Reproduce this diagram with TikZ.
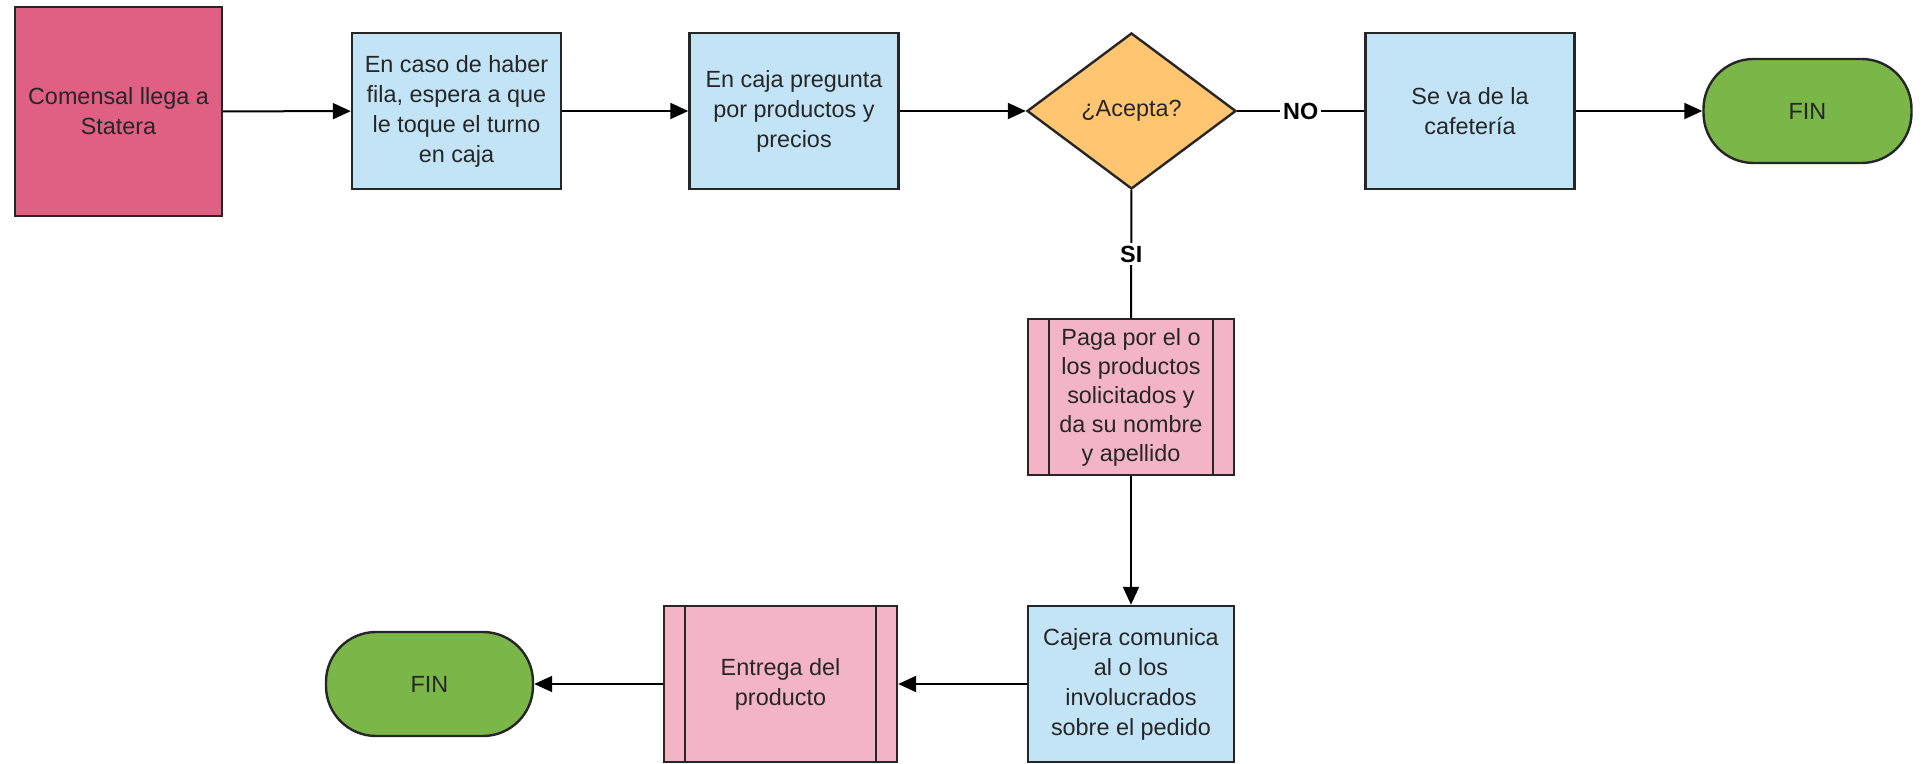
\documentclass[tikz,border=0pt]{standalone}
\usepackage{fontspec}
\setmainfont{Liberation Sans}
\usetikzlibrary{shapes.geometric,arrows.meta}
\definecolor{redc}{RGB}{224,96,131}
\definecolor{bluec}{RGB}{195,228,246}
\definecolor{orangec}{RGB}{255,197,112}
\definecolor{greenc}{RGB}{122,182,72}
\definecolor{pinkc}{RGB}{244,180,199}
\begin{document}
\begin{tikzpicture}[x=0.5pt,y=-0.5pt,
  txt/.style={font=\fontsize{11.7}{15}\selectfont, text=black!85},
  box/.style={txt, draw=black!85, line width=1.2pt, minimum width=104.5pt, minimum height=78pt, align=center, inner sep=0pt},
  bluebox/.style={box, fill=bluec},
  proc/.style={box, fill=pinkc, path picture={
      \draw[line width=1.2pt, black!85] ([xshift=10.5pt]path picture bounding box.north west) -- ([xshift=10.5pt]path picture bounding box.south west);
      \draw[line width=1.2pt, black!85] ([xshift=-10.5pt]path picture bounding box.north east) -- ([xshift=-10.5pt]path picture bounding box.south east);}},
  term/.style={txt, draw=black!85, line width=1.2pt, fill=greenc, minimum width=104pt, minimum height=52pt, rounded corners=25pt, inner sep=0pt},
  conn/.style={line width=1pt, black},
  arr/.style={conn, -{Triangle[length=9pt,width=8pt]}},
  lbl/.style={fill=white, inner sep=1.5pt, font=\fontsize{11.7}{14}\selectfont\bfseries}
]
\useasboundingbox (0,0) rectangle (1924,764);
\node[box, fill=redc, minimum width=103.5pt, minimum height=104.5pt] (a) at (118.5,111.5) {Comensal llega a\\Statera};
\node[bluebox] (b) at (456.5,111) {En caso de haber\\fila, espera a que\\le toque el turno\\en caja};
\node[bluebox] (c) at (794,111) {En caja pregunta\\por productos y\\precios};
\node[txt, shape=diamond, draw=black!85, line width=1.2pt, fill=orangec, minimum width=104.5pt, minimum height=78pt, aspect=1.34, inner sep=0pt] (d) at (1131.5,111) {¿Acepta?};
\node[bluebox] (e) at (1470,111) {Se va de la\\cafetería};
\node[term] (f) at (1807.5,111) {FIN};
\node[proc, minimum width=103pt, font=\fontsize{11.7}{14.5}\selectfont] (g) at (1131,397) {Paga por el o\\los productos\\solicitados y\\da su nombre\\y apellido};
\node[bluebox, minimum width=103pt] (h) at (1131,684) {Cajera comunica\\al o los\\involucrados\\sobre el pedido};
\node[proc, minimum width=116.5pt] (i) at (780.5,684) {Entrega del\\producto};
\node[term, minimum width=103.5pt] (j) at (429.5,684) {FIN};
\draw[arr] (a) -- (b);
\draw[arr] (b) -- (c);
\draw[arr] (c) -- (d);
\draw[conn] (d) -- node[lbl] {NO} (e);
\draw[arr] (e) -- (f);
\draw[conn] (d) -- node[lbl] {SI} (g);
\draw[arr] (g) -- (h);
\draw[arr] (h) -- (i);
\draw[arr] (i) -- (j);
\end{tikzpicture}
\end{document}
